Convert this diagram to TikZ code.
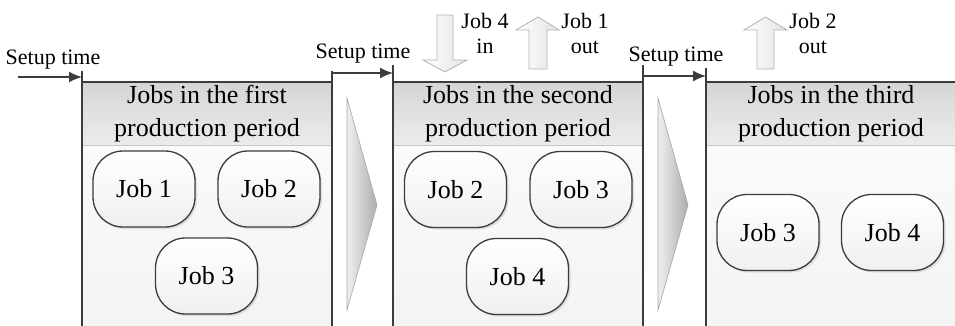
\documentclass[tikz,border=0pt]{standalone}
\usepackage{fontspec}
\setmainfont{Liberation Serif}
\usetikzlibrary{shadows,arrows.meta}
\definecolor{edge}{HTML}{3C3C3C}
\tikzset{
  panelline/.style={draw=edge,line width=1.2pt},
  hdrtext/.style={font=\fontsize{26}{33}\selectfont,align=center,inner sep=0pt},
  jobbox/.style={draw=edge,line width=1.3pt,rounded corners=30pt,minimum width=102pt,minimum height=76pt,
     top color=white,bottom color=gray!12,font=\fontsize{26}{30}\selectfont,
     drop shadow={shadow xshift=2pt,shadow yshift=-2pt,fill=gray!45,opacity=.5}},
  setuplbl/.style={font=\fontsize{22}{26}\selectfont,inner sep=0pt},
  setuparrow/.style={draw=edge,line width=1.6pt,-{Latex[length=13pt,width=11pt]}},
  smalllbl/.style={font=\fontsize{22}{25}\selectfont,align=center,inner sep=0pt},
  blockarrow/.style={draw=gray!60,line width=0.8pt,left color=white,right color=gray!22},
  chevron/.style={draw=gray!70,line width=0.6pt,left color=gray!12,right color=gray!65}
}
\begin{document}
\begin{tikzpicture}[x=1pt,y=-1pt]
\useasboundingbox (0,0) rectangle (955,325);
\begin{scope}
\clip (0,0) rectangle (955,325);
% panels
\foreach \xa/\xb/\tk in {82/332/71, 393/643/65, 706/958/68}{
  \shade[top color=gray!33,bottom color=gray!15] (\xa,82) rectangle (\xb,145);
  \shade[top color=gray!4,bottom color=gray!9] (\xa,145) rectangle (\xb,330);
  \draw[gray!45,line width=0.8pt] (\xa,145) -- (\xb,145);
  \draw[panelline] (\xa,82) -- (\xb,82);
  \draw[panelline] (\xa,\tk) -- (\xa,330);
  \draw[panelline] (\xb,\tk) -- (\xb,330);
}
% chevrons
\shade[chevron] (347,98) -- (377,205) -- (347,310) -- cycle;
\shade[chevron] (658,98) -- (688,205) -- (658,310) -- cycle;
\end{scope}

% headers
\node[hdrtext] (h1) at (207,114) {Jobs in the first\\production period};
\node[hdrtext] (h2) at (518,114) {Jobs in the second\\production period};
\node[hdrtext] (h3) at (831,114) {Jobs in the third\\production period};

% jobs
\node[jobbox] (p1j1) at (144,189) {Job 1};
\node[jobbox] (p1j2) at (269,189) {Job 2};
\node[jobbox] (p1j3) at (206.5,276) {Job 3};
\node[jobbox] (p2j2) at (455.5,189.5) {Job 2};
\node[jobbox] (p2j3) at (581,189.5) {Job 3};
\node[jobbox] (p2j4) at (517.5,276.5) {Job 4};
\node[jobbox] (p3j3) at (768,232.5) {Job 3};
\node[jobbox] (p3j4) at (892.5,232.5) {Job 4};

% setup times
\node[setuplbl] (st1) at (53,60) {Setup time};
\node[setuplbl] (st2) at (363,54) {Setup time};
\node[setuplbl] (st3) at (676,57) {Setup time};
\coordinate (s1a) at (18,77);  \coordinate (s1b) at (82,77);
\coordinate (s2a) at (332,73); \coordinate (s2b) at (393,73);
\coordinate (s3a) at (643,76); \coordinate (s3b) at (706,76);
\draw[setuparrow] (s1a) -- (s1b);
\draw[setuparrow] (s2a) -- (s2b);
\draw[setuparrow] (s3a) -- (s3b);

% block arrows
\shade[blockarrow] (437,15) -- (453,15) -- (453,60) -- (467,60) -- (445,72) -- (423,60) -- (437,60) -- cycle;
\shade[blockarrow] (529,69) -- (547,69) -- (547,30) -- (559,30) -- (538,17) -- (516,30) -- (529,30) -- cycle;
\shade[blockarrow] (757,69) -- (774,69) -- (774,30) -- (787,30) -- (765.5,17) -- (744,30) -- (757,30) -- cycle;
\node[smalllbl] (l4in) at (485,33) {Job 4\\in};
\node[smalllbl] (l1out) at (585,33) {Job 1\\out};
\node[smalllbl] (l2out) at (813,33) {Job 2\\out};
\end{tikzpicture}
\end{document}
